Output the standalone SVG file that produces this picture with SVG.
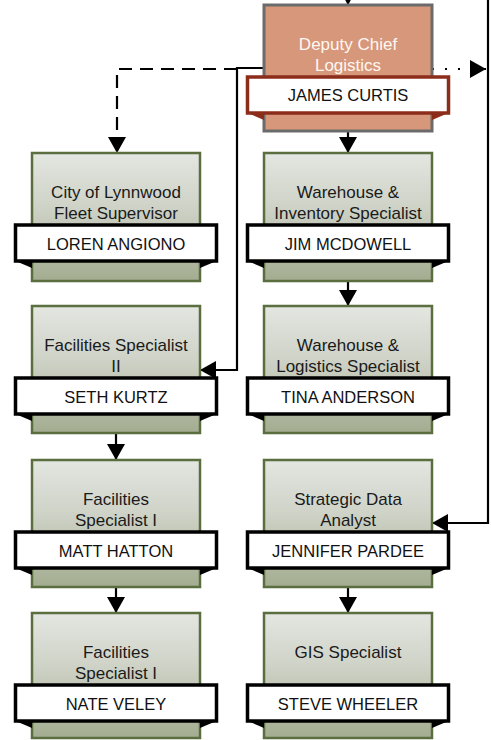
<svg xmlns="http://www.w3.org/2000/svg" width="491" height="740" viewBox="0 0 491 740">
  <defs>
    <linearGradient id="cardFill" x1="0" y1="0" x2="0" y2="1">
      <stop offset="0" stop-color="#E4E6E1"/>
      <stop offset="0.45" stop-color="#CDD1C5"/>
      <stop offset="1" stop-color="#A3AC90"/>
    </linearGradient>
    <marker id="arrow" viewBox="0 0 16 18" refX="16" refY="9" markerWidth="16" markerHeight="18" markerUnits="userSpaceOnUse" orient="auto">
      <path d="M0,0 L16,9 L0,18 Z" fill="#000"/>
    </marker>
    <style>
      .card { fill: url(#cardFill); stroke: #5A6E40; stroke-width: 2.5; }
      .lead { fill: #D6977A; stroke: #6B6B6B; stroke-width: 3; }
      .banner { fill: #FFFFFF; stroke: #000000; stroke-width: 3.5; }
      .lead-banner { fill: #FFFFFF; stroke: #8C2D1B; stroke-width: 3.5; }
      .tab { fill: #000000; }
      .lead-tab { fill: #8C2D1B; }
      .title { font-family: "Liberation Sans", Arial, sans-serif; font-size: 17px; fill: #1A1A1A; text-anchor: middle; }
      .lead-title { fill: #FFF8F2; }
      .name { font-family: "Liberation Sans", Arial, sans-serif; font-size: 16.5px; fill: #111111; text-anchor: middle; }
      .link { fill: none; stroke: #000; stroke-width: 2.2; }
      .dashed { stroke-dasharray: 13 8; }
      .dotted { stroke-dasharray: 2 11; }
    </style>
  </defs>

  <!-- connectors -->
  <g id="connectors">
    <path class="link" d="M348,-20 V5" marker-end="url(#arrow)"/>
    <path class="link" d="M348,131 V153" marker-end="url(#arrow)"/>
    <path class="link" d="M348,281 V306" marker-end="url(#arrow)"/>
    <path class="link" d="M116,433 V460" marker-end="url(#arrow)"/>
    <path class="link" d="M116,587 V613" marker-end="url(#arrow)"/>
    <path class="link" d="M348,587 V613" marker-end="url(#arrow)"/>
    <path class="link" d="M264,68 H237 V370 H200" marker-end="url(#arrow)"/>
    <path class="link dashed" d="M237,69 H117 V153" marker-end="url(#arrow)"/>
    <path class="link dotted" d="M432,69 H486" marker-end="url(#arrow)"/>
    <path class="link" d="M488,-10 V523 H432" marker-end="url(#arrow)"/>
  </g>

  <!-- Deputy Chief Logistics -->
  <g id="node-james-curtis">
    <rect class="lead" x="264" y="5" width="168" height="126"/>
    <text class="title lead-title" x="348" y="50">Deputy Chief</text>
    <text class="title lead-title" x="348" y="71">Logistics</text>
    <polygon class="lead-tab" points="247.5,113 264,113 264,120"/>
    <polygon class="lead-tab" points="448.5,113 432,113 432,120"/>
    <rect class="lead-banner" x="247.5" y="77" width="201" height="36"/>
    <text class="name" x="348" y="101">JAMES CURTIS</text>
  </g>

  <!-- left column -->
  <g id="node-loren-angiono">
    <rect class="card" x="32" y="153" width="168" height="128"/>
    <text class="title" x="116" y="198">City of Lynnwood</text>
    <text class="title" x="116" y="219">Fleet Supervisor</text>
    <polygon class="tab" points="15.5,261 32,261 32,268"/>
    <polygon class="tab" points="216.5,261 200,261 200,268"/>
    <rect class="banner" x="15.5" y="225" width="201" height="36"/>
    <text class="name" x="116" y="250">LOREN ANGIONO</text>
  </g>

  <g id="node-seth-kurtz">
    <rect class="card" x="32" y="306" width="168" height="127"/>
    <text class="title" x="116" y="351">Facilities Specialist</text>
    <text class="title" x="116" y="372">II</text>
    <polygon class="tab" points="15.5,414 32,414 32,421"/>
    <polygon class="tab" points="216.5,414 200,414 200,421"/>
    <rect class="banner" x="15.5" y="378" width="201" height="36"/>
    <text class="name" x="116" y="403">SETH KURTZ</text>
  </g>

  <g id="node-matt-hatton">
    <rect class="card" x="32" y="460" width="168" height="127"/>
    <text class="title" x="116" y="505">Facilities</text>
    <text class="title" x="116" y="526">Specialist I</text>
    <polygon class="tab" points="15.5,568 32,568 32,575"/>
    <polygon class="tab" points="216.5,568 200,568 200,575"/>
    <rect class="banner" x="15.5" y="532" width="201" height="36"/>
    <text class="name" x="116" y="557">MATT HATTON</text>
  </g>

  <g id="node-nate-veley">
    <rect class="card" x="32" y="613" width="168" height="125"/>
    <text class="title" x="116" y="658">Facilities</text>
    <text class="title" x="116" y="679">Specialist I</text>
    <polygon class="tab" points="15.5,721 32,721 32,728"/>
    <polygon class="tab" points="216.5,721 200,721 200,728"/>
    <rect class="banner" x="15.5" y="685" width="201" height="36"/>
    <text class="name" x="116" y="710">NATE VELEY</text>
  </g>

  <!-- right column -->
  <g id="node-jim-mcdowell">
    <rect class="card" x="264" y="153" width="168" height="128"/>
    <text class="title" x="348" y="198">Warehouse &amp;</text>
    <text class="title" x="348" y="219">Inventory Specialist</text>
    <polygon class="tab" points="247.5,261 264,261 264,268"/>
    <polygon class="tab" points="448.5,261 432,261 432,268"/>
    <rect class="banner" x="247.5" y="225" width="201" height="36"/>
    <text class="name" x="348" y="250">JIM MCDOWELL</text>
  </g>

  <g id="node-tina-anderson">
    <rect class="card" x="264" y="306" width="168" height="127"/>
    <text class="title" x="348" y="351">Warehouse &amp;</text>
    <text class="title" x="348" y="372">Logistics Specialist</text>
    <polygon class="tab" points="247.5,414 264,414 264,421"/>
    <polygon class="tab" points="448.5,414 432,414 432,421"/>
    <rect class="banner" x="247.5" y="378" width="201" height="36"/>
    <text class="name" x="348" y="403">TINA ANDERSON</text>
  </g>

  <g id="node-jennifer-pardee">
    <rect class="card" x="264" y="460" width="168" height="127"/>
    <text class="title" x="348" y="505">Strategic Data</text>
    <text class="title" x="348" y="526">Analyst</text>
    <polygon class="tab" points="247.5,568 264,568 264,575"/>
    <polygon class="tab" points="448.5,568 432,568 432,575"/>
    <rect class="banner" x="247.5" y="532" width="201" height="36"/>
    <text class="name" x="348" y="557">JENNIFER PARDEE</text>
  </g>

  <g id="node-steve-wheeler">
    <rect class="card" x="264" y="613" width="168" height="125"/>
    <text class="title" x="348" y="658">GIS Specialist</text>
    <polygon class="tab" points="247.5,721 264,721 264,728"/>
    <polygon class="tab" points="448.5,721 432,721 432,728"/>
    <rect class="banner" x="247.5" y="685" width="201" height="36"/>
    <text class="name" x="348" y="710">STEVE WHEELER</text>
  </g>
</svg>
